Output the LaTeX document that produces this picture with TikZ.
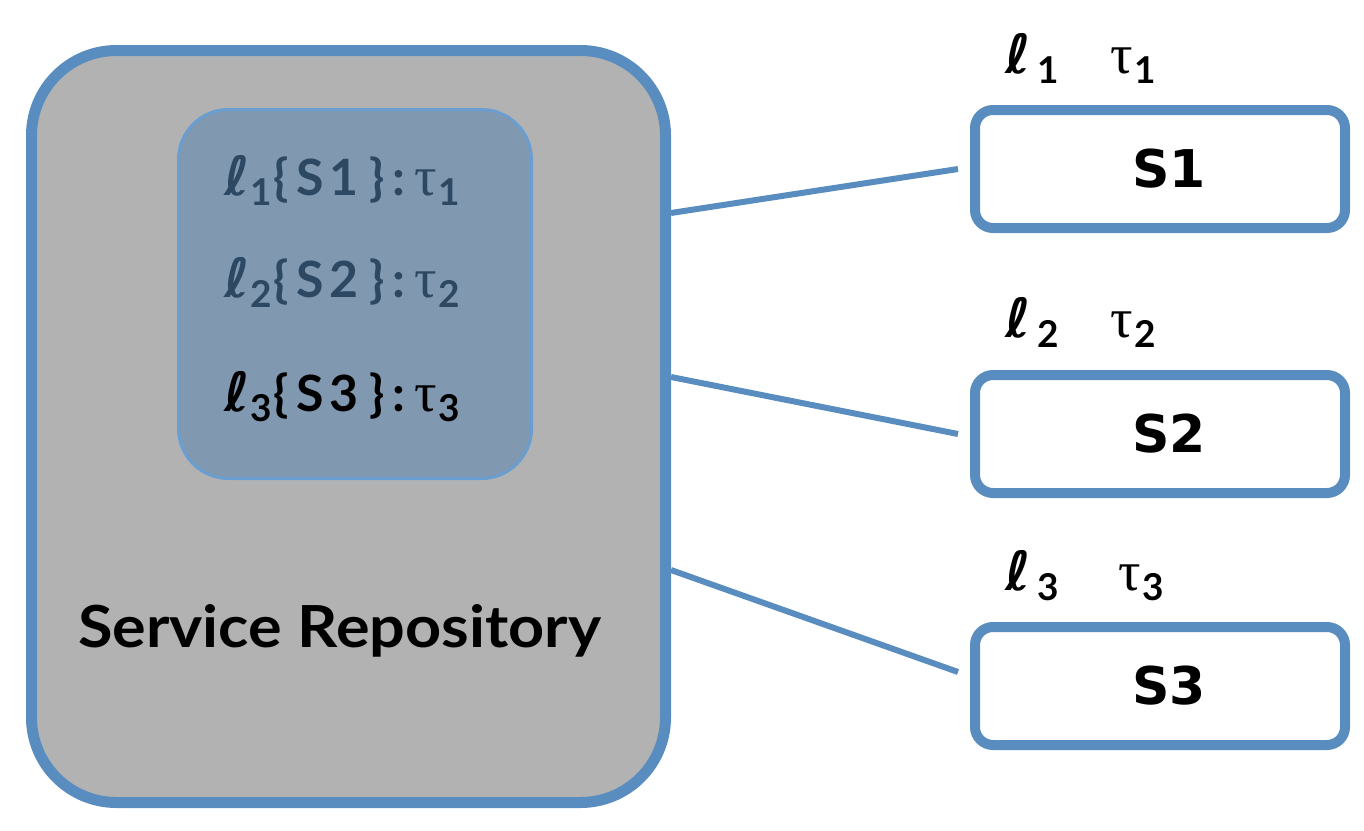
\documentclass[tikz,border=0pt]{standalone}
\usepackage{fontspec}
\newfontfamily\gill{Lato}
\newfontfamily\dvs{DejaVu Sans}
\newfontfamily\tms{Liberation Serif}
\definecolor{bord}{HTML}{5A8DBF}
\definecolor{repofill}{HTML}{B2B2B2}
\definecolor{innerfill}{HTML}{8098B0}
\definecolor{innerbord}{HTML}{6A9ED0}
\definecolor{slate}{HTML}{2C4862}
% #1 subscript
\newcommand{\subdig}[1]{\raisebox{-10pt}{\gill\bfseries\fontsize{37}{37}\selectfont #1}}
\newcommand{\myell}[1]{{\dvs\bfseries\fontsize{54}{54}\selectfont ℓ}\hspace{1pt}\subdig{#1}}
\newcommand{\labell}[1]{{\dvs\bfseries\fontsize{54}{54}\selectfont ℓ}\hspace{7pt}\subdig{#1}}
\newcommand{\mytau}[1]{{\tms\fontsize{56}{56}\selectfont τ}\hspace{2pt}\subdig{#1}}
\newcommand{\brS}[1]{{\gill\bfseries\fontsize{50}{50}\selectfont
  \makebox[23pt][l]{\{}\makebox[33pt][l]{S}\makebox[40pt][l]{#1}\makebox[23pt][l]{\}}\makebox[22pt][l]{:}}}
\tikzset{
  conn/.style={draw=bord, line width=6pt},
  sbox/.style={draw=bord, line width=10pt, fill=white, rounded corners=18pt,
    minimum width=370pt, minimum height=118pt, inner sep=0pt,
    font=\dvs\bfseries\fontsize{52}{52}\selectfont},
  lbl/.style={anchor=base west, inner sep=0pt},
}
\begin{document}
\begin{tikzpicture}[x=1pt,y=-1pt]
\useasboundingbox (0,0) rectangle (1364,830);
\node[draw=bord, line width=11pt, fill=repofill, rounded corners=85pt,
  minimum width=634pt, minimum height=752pt, inner sep=0pt] (repo) at (348.5,426.5) {};
\node[draw=innerbord, line width=3pt, fill=innerfill, rounded corners=50pt,
  minimum width=353pt, minimum height=369pt, inner sep=0pt] (inner) at (355,294) {};
\node[lbl, text=slate] (e1) at (224,195) {\myell{1}\hspace{1pt}\brS{1}\mytau{1}};
\node[lbl, text=slate] (e2) at (224,297) {\myell{2}\hspace{1pt}\brS{2}\mytau{2}};
\node[lbl, text=black] (e3) at (224,411) {\myell{3}\hspace{1pt}\brS{3}\mytau{3}};
\node[lbl, font=\gill\bfseries\fontsize{58}{58}\selectfont] (title) at (78,647) {\scalebox{1.085}[1]{Service Repository}};

\node[sbox] (s1) at (1160,169) {\hspace{18pt}S1};
\node[sbox] (s2) at (1160,434) {\hspace{18pt}S2};
\node[sbox] (s3) at (1160,686) {\hspace{18pt}S3};

\node[lbl] (l1) at (1005,73) {\labell{1}};
\node[lbl] (t1) at (1110,73) {\mytau{1}};
\node[lbl] (l2) at (1005,337) {\labell{2}};
\node[lbl] (t2) at (1110,337) {\mytau{2}};
\node[lbl] (l3) at (1005,590) {\labell{3}};
\node[lbl] (t3) at (1118,590) {\mytau{3}};

\draw[conn] ([yshift=213.5pt]repo.east) -- ([xshift=-12pt]s1.west);
\draw[conn] ([yshift=49.5pt]repo.east) -- ([xshift=-12pt]s2.west);
\draw[conn] ([yshift=-143.5pt]repo.east) -- ([xshift=-12pt,yshift=14pt]s3.west);
\end{tikzpicture}
\end{document}
